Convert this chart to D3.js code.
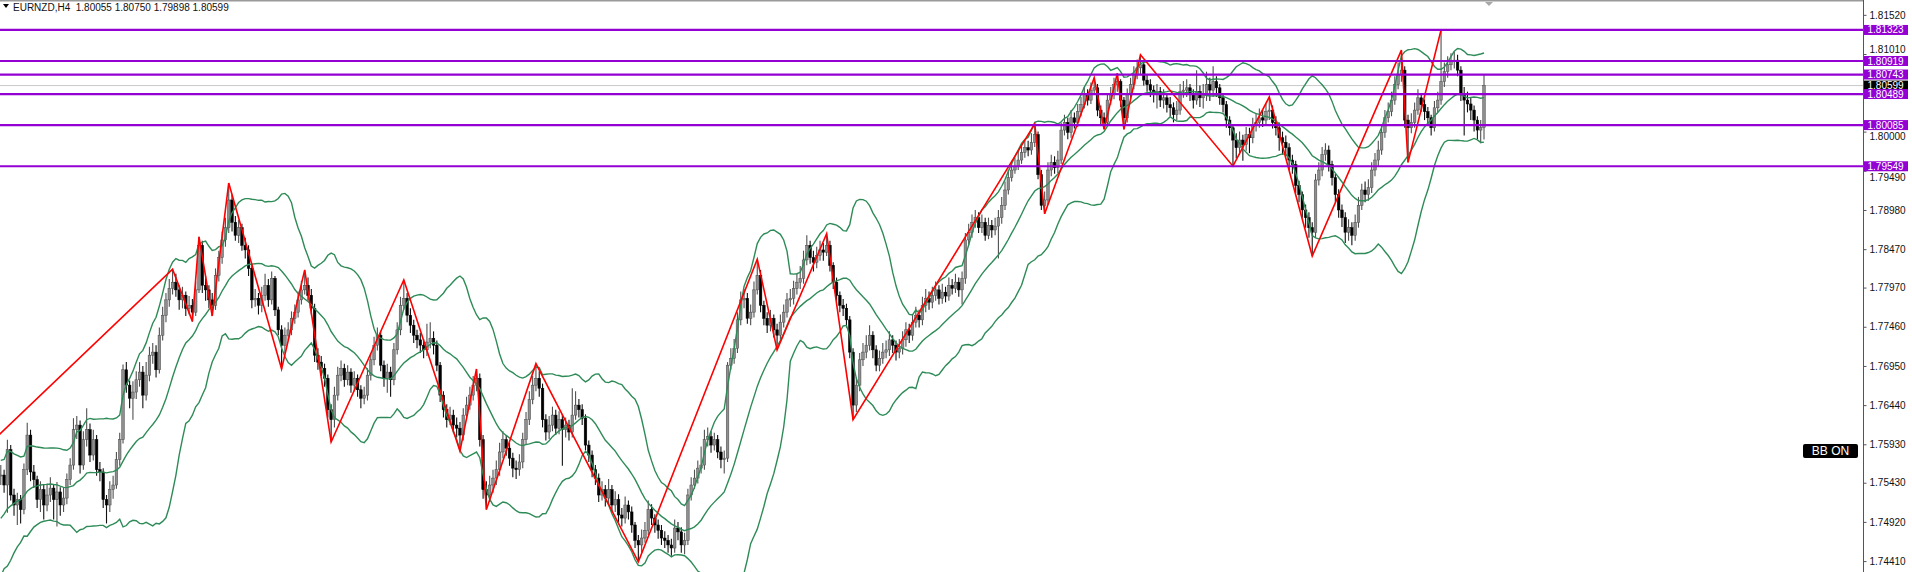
<!DOCTYPE html>
<html>
<head>
<meta charset="utf-8">
<script src="https://cdn.jsdelivr.net/npm/d3@7"></script>
<style>
body{margin:0;background:#fff;overflow:hidden}
svg{display:block}
text{font-family:"Liberation Sans",Arial,sans-serif}
</style>
</head>
<body>
<div id="box"></div>
<script>
// EURNZD H4 - closes before the first visible bar (only used to warm up the bands)
var histCloses=[1.7436,1.7429,1.7445,1.7455,1.7449,1.7462,1.7471,1.7466,1.7481,1.7488,
1.7494,1.7501,1.7510,1.7505,1.7521,1.7527,1.7534,1.7540,1.7549,1.7553];

var closes=[
1.7553,1.7540,1.7586,1.7527,1.7514,1.7521,1.7508,1.7560,1.7605,1.7557,
1.7547,1.7521,1.7534,1.7514,1.7527,1.7536,1.7521,1.7531,1.7514,1.7523,
1.7547,1.7566,1.7612,1.7618,1.7566,1.7599,1.7612,1.7579,1.7599,1.7560,
1.7557,1.7521,1.7514,1.7534,1.7540,1.7573,1.7599,1.7690,1.7670,1.7653,
1.7661,1.7677,1.7687,1.7657,1.7683,1.7709,1.7713,1.7690,1.7735,1.7761,
1.7781,1.7796,1.7804,1.7794,1.7781,1.7787,1.7770,1.7774,1.7765,1.7794,
1.7852,1.7800,1.7794,1.7781,1.7774,1.7813,1.7836,1.7859,1.7875,1.7911,
1.7882,1.7865,1.7875,1.7852,1.7846,1.7822,1.7781,1.7783,1.7774,1.7787,
1.7800,1.7781,1.7809,1.7768,1.7742,1.7722,1.7735,1.7742,1.7757,1.7765,
1.7781,1.7794,1.7800,1.7787,1.7770,1.7709,1.7700,1.7692,1.7679,1.7638,
1.7625,1.7657,1.7683,1.7692,1.7677,1.7687,1.7670,1.7679,1.7664,1.7653,
1.7657,1.7683,1.7703,1.7722,1.7735,1.7696,1.7679,1.7687,1.7677,1.7716,
1.7742,1.7774,1.7783,1.7761,1.7748,1.7735,1.7729,1.7722,1.7716,1.7726,
1.7731,1.7722,1.7696,1.7657,1.7638,1.7625,1.7631,1.7618,1.7614,1.7605,
1.7631,1.7644,1.7657,1.7670,1.7679,1.7599,1.7534,1.7527,1.7540,1.7549,
1.7560,1.7583,1.7599,1.7588,1.7575,1.7562,1.7560,1.7570,1.7599,1.7625,
1.7651,1.7670,1.7679,1.7666,1.7625,1.7609,1.7618,1.7631,1.7614,1.7625,
1.7612,1.7618,1.7609,1.7631,1.7644,1.7638,1.7627,1.7592,1.7579,1.7560,
1.7549,1.7527,1.7534,1.7523,1.7534,1.7514,1.7521,1.7501,1.7497,1.7514,
1.7505,1.7488,1.7468,1.7462,1.7471,1.7481,1.7508,1.7497,1.7488,1.7481,
1.7471,1.7468,1.7462,1.7458,1.7484,1.7479,1.7462,1.7468,1.7527,1.7540,
1.7549,1.7562,1.7566,1.7599,1.7603,1.7592,1.7599,1.7583,1.7573,1.7575,
1.7696,1.7705,1.7718,1.7755,1.7781,1.7783,1.7757,1.7765,1.7794,1.7813,
1.7774,1.7757,1.7748,1.7757,1.7742,1.7735,1.7752,1.7765,1.7781,1.7783,
1.7796,1.7804,1.7809,1.7833,1.7852,1.7836,1.7830,1.7839,1.7846,1.7843,
1.7852,1.7826,1.7804,1.7787,1.7774,1.7770,1.7755,1.7713,1.7644,1.7670,
1.7703,1.7713,1.7722,1.7735,1.7716,1.7696,1.7705,1.7713,1.7716,1.7729,
1.7722,1.7713,1.7718,1.7729,1.7742,1.7735,1.7752,1.7761,1.7755,1.7774,
1.7783,1.7778,1.7787,1.7794,1.7783,1.7791,1.7786,1.7800,1.7796,1.7804,
1.7794,1.7809,1.7859,1.7869,1.7882,1.7888,1.7875,1.7882,1.7865,1.7878,
1.7872,1.7877,1.7888,1.7904,1.7924,1.7940,1.7950,1.7955,1.7963,1.7973,
1.7979,1.7976,1.7986,1.7996,1.7944,1.7904,1.7911,1.7950,1.7960,1.7953,
1.7963,1.8002,1.8012,1.7999,1.8018,1.8012,1.8026,1.8035,1.8048,1.8041,
1.8054,1.8057,1.8028,1.8018,1.8012,1.8041,1.8048,1.8061,1.8065,1.8041,
1.8018,1.8048,1.8061,1.8074,1.8083,1.8087,1.8067,1.8061,1.8054,1.8048,
1.8052,1.8041,1.8044,1.8035,1.8031,1.8022,1.8028,1.8052,1.8054,1.8057,
1.8048,1.8041,1.8052,1.8044,1.8048,1.8061,1.8054,1.8065,1.8057,1.8044,
1.8035,1.8015,1.8005,1.7989,1.7979,1.7989,1.7983,1.7996,1.7992,1.8009,
1.8012,1.8018,1.8015,1.8026,1.8028,1.8012,1.8005,1.7992,1.7986,1.7979,
1.7963,1.7957,1.7930,1.7918,1.7898,1.7888,1.7875,1.7869,1.7937,1.7950,
1.7970,1.7976,1.7957,1.7940,1.7918,1.7898,1.7888,1.7869,1.7875,1.7865,
1.7882,1.7904,1.7924,1.7918,1.7927,1.7950,1.7963,1.7976,1.7999,1.8018,
1.8026,1.8041,1.8061,1.8074,1.8080,1.8015,1.8005,1.8012,1.8028,1.8044,
1.8035,1.8026,1.8018,1.8005,1.8031,1.8041,1.8065,1.8078,1.8087,1.8091,
1.8093,1.8080,1.8048,1.8041,1.8036,1.8028,1.8015,1.8002,1.80055,1.80599];

var highs=[
1.7566,1.7560,1.7599,1.7592,1.7535,1.7530,1.7527,1.7568,1.7621,1.7612,
1.7566,1.7552,1.7545,1.7540,1.7542,1.7550,1.7541,1.7544,1.7537,1.7536,
1.7555,1.7575,1.7627,1.7630,1.7624,1.7610,1.7640,1.7620,1.7612,1.7605,
1.7570,1.7562,1.7527,1.7545,1.7552,1.7583,1.7608,1.7697,1.7700,1.7676,
1.7675,1.7688,1.7700,1.7695,1.7700,1.7720,1.7725,1.7722,1.7745,1.7772,
1.7790,1.7808,1.7821,1.7815,1.7800,1.7798,1.7792,1.7786,1.7782,1.7805,
1.7863,1.7858,1.7812,1.7800,1.7790,1.7822,1.7845,1.7870,1.7888,1.7933,
1.7918,1.7890,1.7885,1.7880,1.7862,1.7852,1.7828,1.7795,1.7790,1.7798,
1.7815,1.7808,1.7818,1.7812,1.7772,1.7748,1.7745,1.7752,1.7766,1.7775,
1.7792,1.7806,1.7820,1.7810,1.7795,1.7776,1.7718,1.7708,1.7698,1.7684,
1.7645,1.7668,1.7694,1.7702,1.7698,1.7696,1.7692,1.7688,1.7684,1.7670,
1.7668,1.7692,1.7712,1.7733,1.7745,1.7740,1.7702,1.7698,1.7694,1.7725,
1.7752,1.7785,1.7807,1.7790,1.7770,1.7755,1.7742,1.7738,1.7730,1.7750,
1.7752,1.7740,1.7728,1.7700,1.7662,1.7645,1.7642,1.7638,1.7628,1.7622,
1.7640,1.7655,1.7668,1.7682,1.7691,1.7685,1.7605,1.7545,1.7552,1.7560,
1.7572,1.7595,1.7610,1.7605,1.7595,1.7582,1.7572,1.7580,1.7608,1.7635,
1.7662,1.7682,1.7698,1.7688,1.7672,1.7632,1.7630,1.7642,1.7638,1.7636,
1.7632,1.7628,1.7625,1.7666,1.7662,1.7652,1.7645,1.7632,1.7598,1.7585,
1.7566,1.7555,1.7545,1.7540,1.7548,1.7540,1.7532,1.7528,1.7510,1.7525,
1.7520,1.7512,1.7492,1.7475,1.7482,1.7492,1.7520,1.7515,1.7502,1.7495,
1.7488,1.7480,1.7475,1.7470,1.7495,1.7492,1.7485,1.7478,1.7535,1.7550,
1.7560,1.7572,1.7590,1.7612,1.7615,1.7610,1.7608,1.7605,1.7590,1.7585,
1.7700,1.7718,1.7730,1.7765,1.7792,1.7795,1.7790,1.7775,1.7805,1.7834,
1.7820,1.7780,1.7765,1.7768,1.7762,1.7750,1.7762,1.7775,1.7790,1.7795,
1.7806,1.7815,1.7825,1.7845,1.7865,1.7858,1.7845,1.7850,1.7858,1.7855,
1.7867,1.7858,1.7830,1.7810,1.7792,1.7782,1.7776,1.7760,1.7718,1.7680,
1.7712,1.7725,1.7735,1.7748,1.7740,1.7722,1.7715,1.7725,1.7728,1.7740,
1.7735,1.7728,1.7730,1.7740,1.7752,1.7750,1.7762,1.7772,1.7768,1.7785,
1.7795,1.7792,1.7798,1.7805,1.7800,1.7802,1.7798,1.7810,1.7808,1.7815,
1.7810,1.7818,1.7868,1.7880,1.7892,1.7898,1.7895,1.7892,1.7888,1.7888,
1.7885,1.7888,1.7898,1.7915,1.7935,1.7950,1.7962,1.7966,1.7975,1.7985,
1.7990,1.7988,1.7998,1.8010,1.8000,1.7950,1.7922,1.7960,1.7970,1.7968,
1.7975,1.8012,1.8022,1.8018,1.8028,1.8025,1.8036,1.8045,1.8058,1.8055,
1.8064,1.8070,1.8062,1.8034,1.8025,1.8050,1.8058,1.8070,1.8076,1.8068,
1.8045,1.8056,1.8070,1.8085,1.8094,1.8100,1.8092,1.8074,1.8068,1.8060,
1.8062,1.8058,1.8055,1.8050,1.8045,1.8038,1.8040,1.8062,1.8066,1.8068,
1.8062,1.8055,1.8080,1.8060,1.8062,1.8078,1.8070,1.8085,1.8072,1.8062,
1.8050,1.8040,1.8020,1.8010,1.7998,1.8000,1.7996,1.8006,1.8005,1.8018,
1.8024,1.8030,1.8028,1.8036,1.8045,1.8034,1.8020,1.8012,1.8000,1.7995,
1.7985,1.7970,1.7962,1.7936,1.7922,1.7905,1.7895,1.7882,1.7945,1.7960,
1.7980,1.7985,1.7982,1.7962,1.7945,1.7925,1.7905,1.7895,1.7886,1.7882,
1.7892,1.7915,1.7932,1.7935,1.7938,1.7960,1.7972,1.7988,1.8010,1.8028,
1.8038,1.8052,1.8072,1.8090,1.8106,1.8085,1.8022,1.8024,1.8038,1.8055,
1.8050,1.8042,1.8032,1.8022,1.8040,1.8052,1.81323,1.8090,1.8098,1.8102,
1.8104,1.8100,1.8085,1.8058,1.8052,1.8045,1.8034,1.8020,1.8015,1.8075];

var lows=[
1.7540,1.7530,1.7504,1.7520,1.7500,1.7488,1.7490,1.7502,1.7553,1.7545,
1.7536,1.7510,1.7505,1.7495,1.7506,1.7518,1.7495,1.7486,1.7500,1.7505,
1.7515,1.7540,1.7560,1.7600,1.7555,1.7560,1.7590,1.7570,1.7572,1.7552,
1.7545,1.7510,1.7490,1.7505,1.7522,1.7535,1.7565,1.7594,1.7660,1.7640,
1.7625,1.7652,1.7668,1.7640,1.7650,1.7675,1.7698,1.7680,1.7685,1.7728,
1.7752,1.7772,1.7788,1.7785,1.7768,1.7770,1.7760,1.7762,1.7753,1.7760,
1.7790,1.7790,1.7780,1.7770,1.7760,1.7768,1.7805,1.7828,1.7850,1.7868,
1.7870,1.7858,1.7855,1.7845,1.7835,1.7812,1.7770,1.7772,1.7762,1.7765,
1.7780,1.7772,1.7775,1.7760,1.7735,1.7691,1.7712,1.7728,1.7735,1.7750,
1.7758,1.7775,1.7788,1.7780,1.7762,1.7700,1.7690,1.7682,1.7668,1.7628,
1.7596,1.7615,1.7650,1.7675,1.7668,1.7670,1.7660,1.7662,1.7655,1.7640,
1.7645,1.7650,1.7676,1.7696,1.7715,1.7688,1.7668,1.7660,1.7655,1.7670,
1.7710,1.7735,1.7768,1.7752,1.7738,1.7725,1.7718,1.7712,1.7705,1.7708,
1.7718,1.7710,1.7688,1.7648,1.7628,1.7615,1.7618,1.7608,1.7602,1.7584,
1.7598,1.7625,1.7638,1.7650,1.7662,1.7590,1.7522,1.7508,1.7518,1.7530,
1.7540,1.7552,1.7575,1.7578,1.7565,1.7550,1.7548,1.7552,1.7562,1.7592,
1.7618,1.7645,1.7662,1.7655,1.7615,1.7598,1.7600,1.7610,1.7605,1.7606,
1.7565,1.7602,1.7598,1.7602,1.7625,1.7628,1.7618,1.7585,1.7570,1.7550,
1.7540,1.7518,1.7520,1.7512,1.7515,1.7505,1.7505,1.7492,1.7486,1.7490,
1.7495,1.7478,1.7458,1.7440,1.7452,1.7465,1.7475,1.7488,1.7478,1.7470,
1.7462,1.7458,1.7452,1.7448,1.7452,1.7468,1.7452,1.7450,1.7462,1.7520,
1.7535,1.7542,1.7555,1.7560,1.7590,1.7582,1.7585,1.7575,1.7562,1.7555,
1.7570,1.7690,1.7698,1.7712,1.7748,1.7770,1.7750,1.7748,1.7758,1.7788,
1.7765,1.7748,1.7738,1.7740,1.7732,1.7716,1.7728,1.7745,1.7758,1.7772,
1.7775,1.7788,1.7795,1.7802,1.7826,1.7828,1.7818,1.7822,1.7832,1.7832,
1.7838,1.7818,1.7795,1.7780,1.7765,1.7760,1.7745,1.7705,1.7625,1.7635,
1.7662,1.7695,1.7705,1.7715,1.7705,1.7688,1.7688,1.7698,1.7705,1.7708,
1.7712,1.7702,1.7705,1.7710,1.7720,1.7725,1.7728,1.7745,1.7745,1.7748,
1.7765,1.7768,1.7770,1.7780,1.7775,1.7776,1.7778,1.7780,1.7788,1.7790,
1.7785,1.7775,1.7802,1.7852,1.7862,1.7875,1.7868,1.7868,1.7858,1.7860,
1.7862,1.7865,1.7835,1.7880,1.7898,1.7918,1.7935,1.7945,1.7950,1.7958,
1.7966,1.7968,1.7970,1.7980,1.7938,1.7898,1.7893,1.7905,1.7942,1.7945,
1.7946,1.7958,1.7995,1.7990,1.7992,1.8004,1.8006,1.8020,1.8030,1.8034,
1.8036,1.8048,1.8020,1.8010,1.8003,1.8008,1.8035,1.8042,1.8052,1.8032,
1.8003,1.8012,1.8042,1.8055,1.8068,1.8075,1.8060,1.8052,1.8045,1.8038,
1.8030,1.8032,1.8030,1.8025,1.8020,1.8012,1.8015,1.8022,1.8044,1.8045,
1.8040,1.8030,1.8035,1.8032,1.8030,1.8040,1.8040,1.8045,1.8045,1.8035,
1.8025,1.8005,1.7995,1.7955,1.7965,1.7970,1.7962,1.7975,1.7972,1.7985,
1.8000,1.8005,1.8006,1.8008,1.8015,1.8004,1.7995,1.7975,1.7970,1.7968,
1.7950,1.7945,1.7920,1.7908,1.7888,1.7875,1.7862,1.7838,1.7862,1.7930,
1.7942,1.7962,1.7948,1.7930,1.7908,1.7888,1.7876,1.7855,1.7858,1.7852,
1.7858,1.7875,1.7898,1.7908,1.7910,1.7920,1.7942,1.7955,1.7970,1.7992,
1.8012,1.8020,1.8035,1.8055,1.8065,1.8005,1.7960,1.7998,1.8005,1.8022,
1.8026,1.8015,1.8008,1.7995,1.8000,1.8025,1.8035,1.8058,1.8070,1.8080,
1.8082,1.8072,1.8040,1.7995,1.8025,1.8015,1.8000,1.7990,1.7985,1.79898];

// zigzag turning points (bar index, price); first one is off screen to the left
var zzIdx=[-45,52,58,60,64,69,85,92,100,122,139,144,147,162,193,229,235,250,258,313,316,331,334,338,340,345,373,384,397,424,426,436];
var zzPrice=[1.7423,1.7821,1.7753,1.7863,1.7760,1.7933,1.7691,1.7820,1.7596,1.7807,1.7584,1.7691,1.7508,1.7698,1.7440,1.7834,1.7716,1.7867,1.7625,1.8010,1.7893,1.8070,1.8003,1.8076,1.8003,1.8100,1.7955,1.8045,1.7838,1.8106,1.7960,1.81323];

var levels=[1.81323,1.80919,1.80743,1.80489,1.80085,1.79549];
var tickVals=[1.81520,1.81010,1.80000,1.79490,1.78980,1.78470,1.77970,1.77460,1.76950,1.76440,1.75930,1.75430,1.74920,1.74410];
var header="EURNZD,H4  1.80055 1.80750 1.79898 1.80599";
var lastPrice=1.80599;

var W=1912,H=572,axisX=1863;
var purple="#9400d3",bbColor="#2e8b57";

var x=d3.scaleLinear().domain([0,closes.length-1]).range([0.8,1484]);
var y=d3.scaleLinear().domain([1.74268,1.81713]).range([H,0]);

var svg=d3.select("#box").append("svg")
    .attr("width",W)
    .attr("height",H)

svg.append("clipPath").attr("id","plot")
   .append("rect").attr("x",0).attr("y",0).attr("width",axisX).attr("height",H)

var board=svg.append("g").attr("clip-path","url(#plot)")

// bid line
board.append("line")
     .attr("x1",0).attr("x2",axisX)
     .attr("y1",y(lastPrice)).attr("y2",y(lastPrice))
     .attr("stroke","#c8c8c8").attr("stroke-width",1)

// candles
var bars=closes.map(function(c,i){
    var o=i?closes[i-1]:histCloses[histCloses.length-1];
    return {i:i,o:o,h:highs[i],l:lows[i],c:c}
})
var cg=board.append("g")
cg.selectAll("line.wick")
  .data(bars)
  .enter()
  .append("line")
  .attr("class","wick")
  .attr("x1",function(d){return x(d.i)}).attr("x2",function(d){return x(d.i)})
  .attr("y1",function(d){return y(d.h)}).attr("y2",function(d){return y(d.l)})
  .attr("stroke",function(d){return d.c>=d.o?"#505050":"#111"})
  .attr("stroke-width",1.1)
cg.selectAll("rect")
  .data(bars)
  .enter()
  .append("rect")
  .attr("x",function(d){return x(d.i)-1.3})
  .attr("width",2.6)
  .attr("y",function(d){return y(Math.max(d.o,d.c))})
  .attr("height",function(d){return Math.max(1,Math.abs(y(d.o)-y(d.c)))})
  .attr("fill",function(d){return d.c>=d.o?"#8e8e8e":"#000"})
  .attr("stroke",function(d){return d.c>=d.o?"#4a4a4a":"#000"})
  .attr("stroke-width",0.5)

// bollinger bands 20, 2
var all=histCloses.concat(closes)
var bb=closes.map(function(c,i){
    var w=all.slice(i+1,i+21)
    var m=d3.mean(w)
    var sd=Math.sqrt(d3.mean(w,function(v){return (v-m)*(v-m)}))
    return {i:i,mid:m,up:m+2*sd,lo:m-2*sd}
})
;["up","mid","lo"].forEach(function(k){
    board.append("path")
         .datum(bb)
         .attr("fill","none")
         .attr("stroke",bbColor)
         .attr("stroke-width",1.4)
         .attr("d",d3.line().x(function(d){return x(d.i)}).y(function(d){return y(d[k])}))
})

// zigzag
board.append("path")
     .datum(zzIdx.map(function(d,i){return [d,zzPrice[i]]}))
     .attr("fill","none")
     .attr("stroke","#ff0000")
     .attr("stroke-width",1.6)
     .attr("d",d3.line().x(function(d){return x(d[0])}).y(function(d){return y(d[1])}))

// horizontal levels
board.selectAll("line.lvl")
     .data(levels)
     .enter()
     .append("line")
     .attr("class","lvl")
     .attr("x1",0).attr("x2",axisX)
     .attr("y1",function(d){return y(d)}).attr("y2",function(d){return y(d)})
     .attr("stroke",purple).attr("stroke-width",2.2)

// frame
svg.append("line").attr("x1",0).attr("x2",axisX).attr("y1",0.5).attr("y2",0.5)
   .attr("stroke","#9a9a9a").attr("stroke-width",2)
svg.append("line").attr("x1",axisX+0.5).attr("x2",axisX+0.5).attr("y1",0).attr("y2",H)
   .attr("stroke","#555").attr("stroke-width",1)

// price axis
var yAxis=d3.axisRight(y).tickValues(tickVals).tickSize(3).tickPadding(3)
            .tickFormat(d3.format(".5f"))
var ax=svg.append("g")
   .attr("transform","translate("+(axisX+0.5)+",0)")
   .call(yAxis)
ax.select(".domain").remove()
ax.selectAll(".tick line").attr("stroke","#555")
ax.selectAll(".tick text").attr("fill","#111").style("font-size","10px")
  .style("font-family","'Liberation Sans',Arial,sans-serif")
// push a tick label clear of a level tag sitting on top of it
var tagYs=levels.map(function(d){return y(d)})
ax.selectAll(".tick text").each(function(v){
    var ty=y(v),shift=0
    tagYs.forEach(function(g){
        var dd=ty-g
        if(Math.abs(dd)<11.5) shift=(dd>=0?1:-1)*(11.5-Math.abs(dd))
    })
    d3.select(this).attr("y",shift)
})

// current price tag
var tag=svg.append("g").attr("transform","translate("+(axisX+1)+","+y(lastPrice)+")")
tag.append("rect").attr("x",0).attr("y",-5).attr("width",44).attr("height",10).attr("fill","#000")
tag.append("text").attr("x",3.5).attr("y",0).attr("dy","0.35em").attr("fill","#fff")
   .style("font-size","10px").text(d3.format(".5f")(lastPrice))

// level tags
var tags=svg.selectAll("g.ltag")
   .data(levels)
   .enter()
   .append("g")
   .attr("class","ltag")
   .attr("transform",function(d){return "translate("+(axisX+1)+","+y(d)+")"})
tags.append("rect").attr("x",0).attr("y",-5).attr("width",44).attr("height",10).attr("fill",purple)
tags.append("text").attr("x",3.5).attr("y",0).attr("dy","0.35em").attr("fill","#fff")
    .style("font-size","10px").text(function(d){return d3.format(".5f")(d)})

// header
svg.append("path").attr("d","M3,4 L9,4 L6,8 Z").attr("fill","#000")
svg.append("text").attr("x",13).attr("y",11).attr("fill","#111")
   .style("font-size","10px").style("white-space","pre").text(header)

// chart shift marker
svg.append("path").attr("d","M1485,2 L1493,2 L1489,6 Z").attr("fill","#a8a8a8")

// BB ON label
svg.append("rect").attr("x",1803).attr("y",444).attr("width",55).attr("height",14).attr("rx",2)
   .attr("fill","#000")
svg.append("text").attr("x",1830.5).attr("y",451).attr("dy","0.36em").attr("text-anchor","middle")
   .attr("fill","#fff").style("font-size","12px").text("BB ON")
</script>
</body>
</html>
